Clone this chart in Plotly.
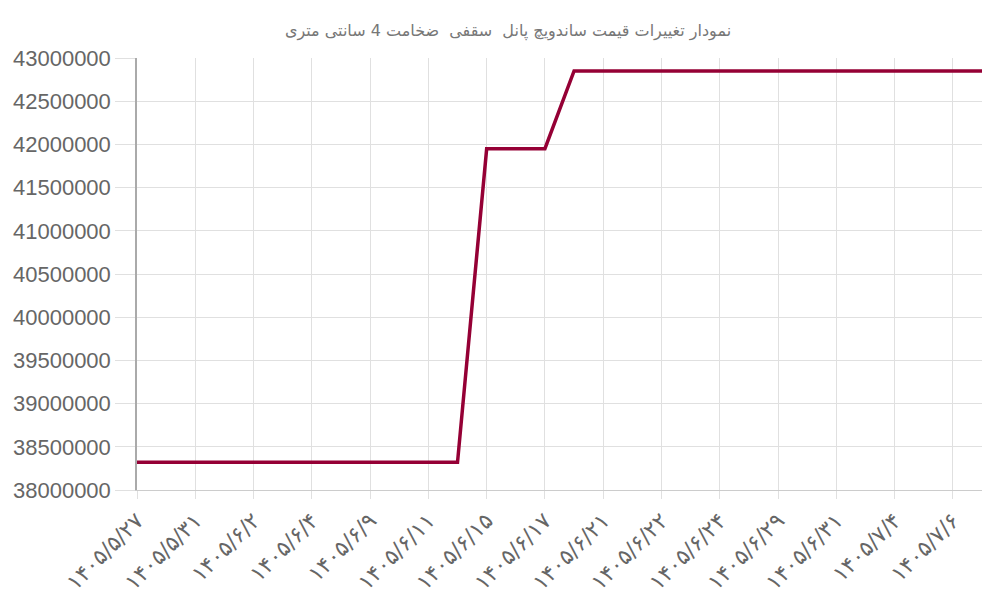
import plotly.graph_objects as go

# chart title and date labels (only every other date is labelled on the axis)
title_text = 'نمودار تغییرات قیمت ساندویچ پانل  سقفی  ضخامت 4 سانتی متری'
tick_labels = ['۱۴۰۵/۵/۲۷', '۱۴۰۵/۵/۳۱', '۱۴۰۵/۶/۲', '۱۴۰۵/۶/۴', '۱۴۰۵/۶/۹',
               '۱۴۰۵/۶/۱۱', '۱۴۰۵/۶/۱۵', '۱۴۰۵/۶/۱۷', '۱۴۰۵/۶/۲۱', '۱۴۰۵/۶/۲۲',
               '۱۴۰۵/۶/۲۴', '۱۴۰۵/۶/۲۹', '۱۴۰۵/۶/۳۱', '۱۴۰۵/۷/۴', '۱۴۰۵/۷/۶']
tick_index = [0, 2, 4, 6, 8, 10, 12, 14, 16, 18, 20, 22, 24, 26, 28]

# one price per recorded day
point_index = list(range(30))
prices = [38320000, 38320000, 38320000, 38320000, 38320000, 38320000,
          38320000, 38320000, 38320000, 38320000, 38320000, 38320000,
          41950000, 41950000, 41950000,
          42850000, 42850000, 42850000, 42850000, 42850000, 42850000,
          42850000, 42850000, 42850000, 42850000, 42850000, 42850000,
          42850000, 42850000, 42850000]

fig = go.Figure()
fig.add_trace(go.Scatter(
    x=point_index,
    y=prices,
    mode='lines',
    line=dict(color='#950035', width=3.5),
    showlegend=False,
))

# page body adds 8px, so margins are shifted by that
fig.update_layout(
    width=1000,
    height=600,
    margin=dict(l=129, r=26, t=50, b=118),
    paper_bgcolor='white',
    plot_bgcolor='white',
    title=dict(text=title_text, x=0.5, xanchor='center', y=0.963, yanchor='middle',
               font=dict(family='DejaVu Sans', size=16, color='#777777')),
)
fig.update_xaxes(
    range=[0, 29],
    tickmode='array',
    tickvals=tick_index,
    ticktext=tick_labels,
    tickangle=-45,
    tickfont=dict(family='DejaVu Sans', size=22, color='#666666'),
    showgrid=True, gridcolor='#e0e0e0', gridwidth=1,
    ticks='outside', ticklen=8, tickcolor='#e0e0e0',
    showline=True, linecolor='#cccccc', linewidth=1,
    zeroline=False,
    automargin=False,
)
fig.update_yaxes(
    range=[38000000, 43000000],
    tickmode='linear', tick0=38000000, dtick=500000,
    tickformat='d',
    tickfont=dict(family='Liberation Sans', size=22, color='#666666'),
    showgrid=True, gridcolor='#e0e0e0', gridwidth=1,
    ticks='outside', ticklen=20, tickcolor='#e0e0e0',
    showline=True, linecolor='#aaaaaa', linewidth=1.5,
    zeroline=False,
    automargin=False,
)

fig.write_html("out.html")
